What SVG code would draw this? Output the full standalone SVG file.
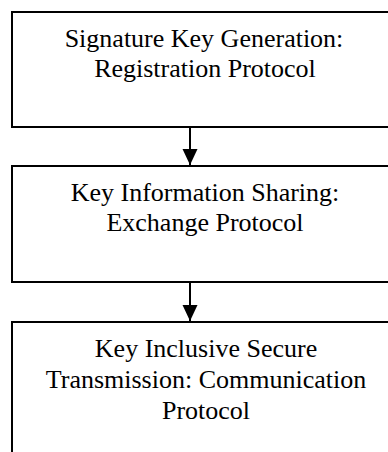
<svg xmlns="http://www.w3.org/2000/svg" width="388" height="452" viewBox="0 0 388 452">
<style>
.box{fill:#fff;stroke:#000;stroke-width:2}
.t{font-family:"Liberation Serif","Times New Roman",serif;font-size:26px;fill:#000;text-anchor:middle}
.c{stroke:#000;stroke-width:2;fill:none}
</style>
<defs>
<marker id="ah" markerUnits="userSpaceOnUse" markerWidth="18" markerHeight="16" refX="16" refY="7.5" orient="auto">
<path d="M0,0 L16,7.5 L0,15 Z" fill="#000"/>
</marker>
</defs>
<rect width="388" height="452" fill="#fff"/>
<g id="node1">
<rect class="box" x="12" y="12" width="400" height="115"/>
<text class="t" x="204" y="47">Signature Key Generation:</text>
<text class="t" x="205" y="77">Registration Protocol</text>
</g>
<g id="node2">
<rect class="box" x="12" y="166" width="400" height="116"/>
<text class="t" x="205" y="201">Key Information Sharing:</text>
<text class="t" x="205" y="231">Exchange Protocol</text>
</g>
<g id="node3">
<rect class="box" x="12" y="322" width="400" height="160"/>
<text class="t" x="206" y="357">Key Inclusive Secure</text>
<text class="t" x="206" y="388">Transmission: Communication</text>
<text class="t" x="206" y="419">Protocol</text>
</g>
<g id="connectors">
<line class="c" x1="190" y1="127" x2="190" y2="165" marker-end="url(#ah)"/>
<line class="c" x1="190" y1="282" x2="190" y2="321" marker-end="url(#ah)"/>
</g>
</svg>
